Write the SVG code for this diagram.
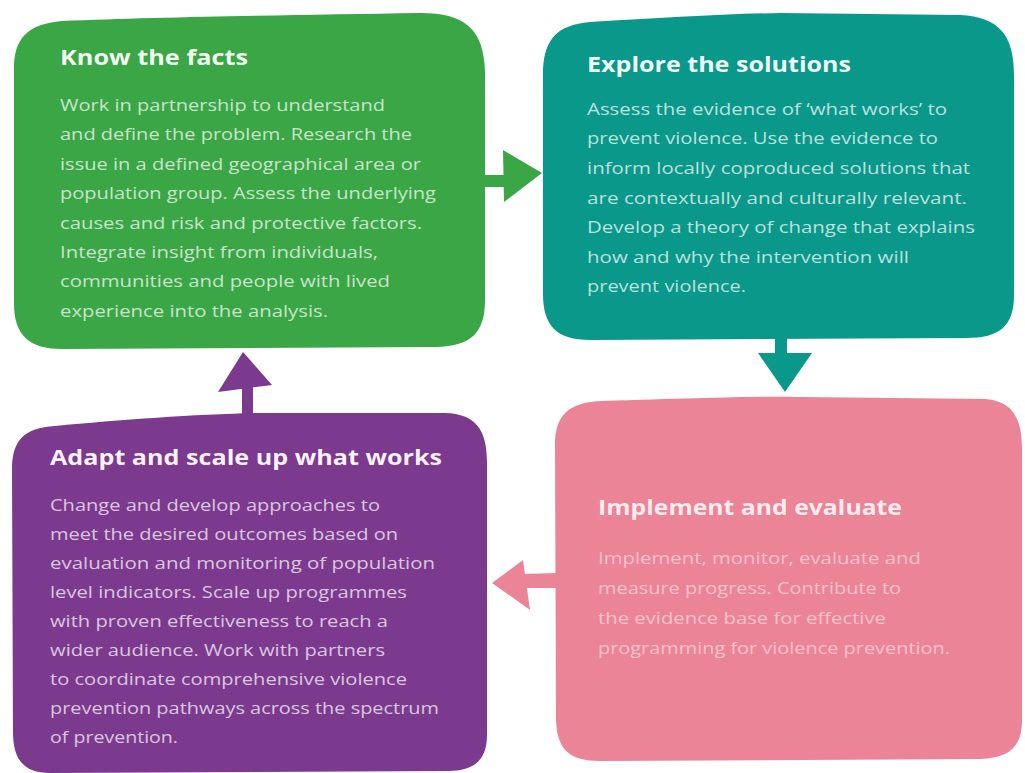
<svg xmlns="http://www.w3.org/2000/svg" width="1025" height="773" viewBox="0 0 1025 773">
<style>
.t{font-family:"Open Sans","Liberation Sans",sans-serif;font-weight:700;font-size:21px;fill:#ffffff;fill-opacity:0.95}
.b{font-family:"Open Sans","Liberation Sans",sans-serif;font-weight:400;font-size:16.5px;fill:#ffffff;fill-opacity:0.72}
.pk .b{fill-opacity:0.5}
.pk .t{fill-opacity:0.85}
</style>
<rect width="1025" height="773" fill="#ffffff"/>
<g id="connectors">
  <g id="arrow-facts-solutions" fill="#3ba646">
    <rect x="482" y="175" width="25" height="12"/>
    <polygon points="503,150 542,173 504,202"/>
  </g>
  <g id="arrow-solutions-implement" fill="#0a988b">
    <rect x="775" y="334" width="12" height="22"/>
    <polygon points="758,353 812,353 785,392"/>
  </g>
  <g id="arrow-implement-adapt" fill="#ec8498">
    <polygon points="558,573 522,574 523,588 558,588"/>
    <polygon points="492,583 523,560 530,610"/>
  </g>
  <g id="arrow-adapt-facts" fill="#7b3a8e">
    <rect x="242" y="384" width="11" height="32"/>
    <polygon points="243,352 272,385 218,392"/>
  </g>
</g>
<g id="node-know-facts">
  <path fill="#3ba646" d="M14 72 C13 40 26 24 62 21 C160 17 300 15 420 13 C466 13 484 30 485 72 L485 300 C485 334 470 346 436 347 L62 349 C30 349 14 336 14 304 Z"/>
  <text class="t" x="60" y="65" textLength="188" lengthAdjust="spacingAndGlyphs">Know the facts</text>
  <text class="b" x="60" y="111" textLength="325" lengthAdjust="spacingAndGlyphs">Work in partnership to understand</text>
  <text class="b" x="60" y="140.4" textLength="352" lengthAdjust="spacingAndGlyphs">and define the problem. Research the</text>
  <text class="b" x="60" y="169.8" textLength="361" lengthAdjust="spacingAndGlyphs">issue in a defined geographical area or</text>
  <text class="b" x="60" y="199.2" textLength="376" lengthAdjust="spacingAndGlyphs">population group. Assess the underlying</text>
  <text class="b" x="60" y="228.6" textLength="362" lengthAdjust="spacingAndGlyphs">causes and risk and protective factors.</text>
  <text class="b" x="60" y="258" textLength="318" lengthAdjust="spacingAndGlyphs">Integrate insight from individuals,</text>
  <text class="b" x="60" y="287.4" textLength="330" lengthAdjust="spacingAndGlyphs">communities and people with lived</text>
  <text class="b" x="60" y="316.8" textLength="268" lengthAdjust="spacingAndGlyphs">experience into the analysis.</text>
</g>
<g id="node-explore-solutions">
  <path fill="#0a988b" d="M543 75 C543 40 556 25 590 22 C660 18 720 14 780 13 L960 15 C1000 17 1014 36 1014 75 L1014 295 C1014 326 1000 338 966 338 L590 340 C557 340 543 326 543 294 Z"/>
  <text class="t" x="587" y="72" textLength="264" lengthAdjust="spacingAndGlyphs">Explore the solutions</text>
  <text class="b" x="587" y="114.8" textLength="360" lengthAdjust="spacingAndGlyphs">Assess the evidence of ‘what works’ to</text>
  <text class="b" x="587" y="144.4" textLength="351" lengthAdjust="spacingAndGlyphs">prevent violence. Use the evidence to</text>
  <text class="b" x="587" y="174" textLength="383" lengthAdjust="spacingAndGlyphs">inform locally coproduced solutions that</text>
  <text class="b" x="587" y="203.5" textLength="380" lengthAdjust="spacingAndGlyphs">are contextually and culturally relevant.</text>
  <text class="b" x="587" y="233.1" textLength="388" lengthAdjust="spacingAndGlyphs">Develop a theory of change that explains</text>
  <text class="b" x="587" y="262.7" textLength="322" lengthAdjust="spacingAndGlyphs">how and why the intervention will</text>
  <text class="b" x="587" y="292.2" textLength="159" lengthAdjust="spacingAndGlyphs">prevent violence.</text>
</g>
<g id="node-implement-evaluate" class="pk">
  <path fill="#ec8498" d="M555 445 C555 414 570 402 602 401 C700 398 760 396 800 397 L985 399 C1014 401 1022 420 1022 450 L1022 720 C1022 748 1008 758 980 759 L600 761 C570 761 557 750 556 720 Z"/>
  <text class="t" x="598" y="515" textLength="304" lengthAdjust="spacingAndGlyphs">Implement and evaluate</text>
  <text class="b" x="598" y="564" textLength="323" lengthAdjust="spacingAndGlyphs">Implement, monitor, evaluate and</text>
  <text class="b" x="598" y="594" textLength="303" lengthAdjust="spacingAndGlyphs">measure progress. Contribute to</text>
  <text class="b" x="598" y="624" textLength="288" lengthAdjust="spacingAndGlyphs">the evidence base for effective</text>
  <text class="b" x="598" y="654" textLength="352" lengthAdjust="spacingAndGlyphs">programming for violence prevention.</text>
</g>
<g id="node-adapt-scale">
  <path fill="#7b3a8e" d="M12 470 C12 440 24 428 55 426 C120 420 200 414 260 413 L445 413 C476 414 487 430 487 462 L487 735 C487 760 474 771 448 771 L50 773 C24 773 13 760 13 732 Z"/>
  <text class="t" x="50" y="465" textLength="392" lengthAdjust="spacingAndGlyphs">Adapt and scale up what works</text>
  <text class="b" x="50" y="511" textLength="330" lengthAdjust="spacingAndGlyphs">Change and develop approaches to</text>
  <text class="b" x="50" y="540" textLength="348" lengthAdjust="spacingAndGlyphs">meet the desired outcomes based on</text>
  <text class="b" x="50" y="569" textLength="385" lengthAdjust="spacingAndGlyphs">evaluation and monitoring of population</text>
  <text class="b" x="50" y="598" textLength="357" lengthAdjust="spacingAndGlyphs">level indicators. Scale up programmes</text>
  <text class="b" x="50" y="627" textLength="338" lengthAdjust="spacingAndGlyphs">with proven effectiveness to reach a</text>
  <text class="b" x="50" y="656" textLength="335" lengthAdjust="spacingAndGlyphs">wider audience. Work with partners</text>
  <text class="b" x="50" y="685" textLength="357" lengthAdjust="spacingAndGlyphs">to coordinate comprehensive violence</text>
  <text class="b" x="50" y="714" textLength="389" lengthAdjust="spacingAndGlyphs">prevention pathways across the spectrum</text>
  <text class="b" x="50" y="743" textLength="128" lengthAdjust="spacingAndGlyphs">of prevention.</text>
</g>
</svg>
